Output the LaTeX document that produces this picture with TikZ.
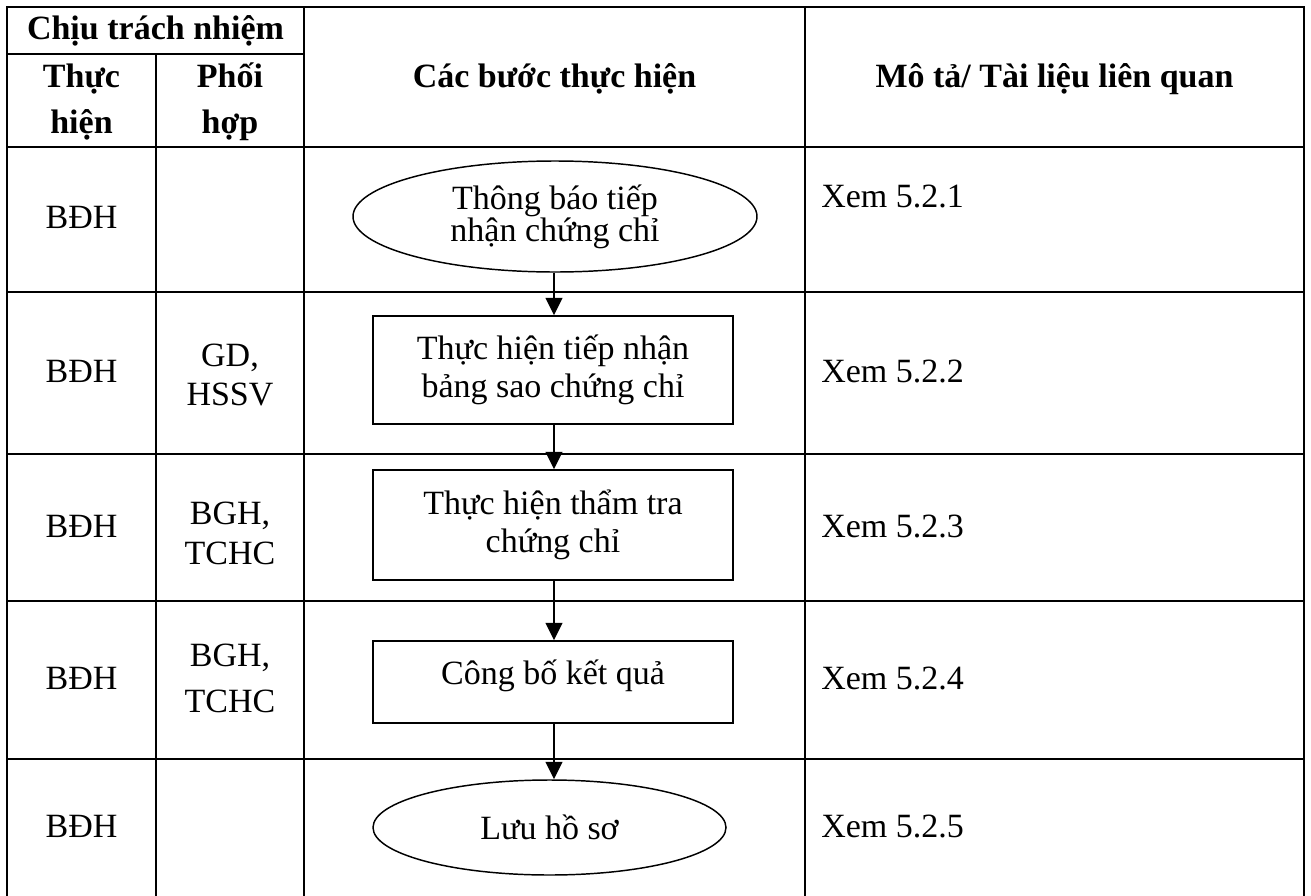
\documentclass[tikz,border=0pt]{standalone}
\usepackage{fontspec}
\setmainfont{Liberation Serif}
\usetikzlibrary{shapes.geometric,arrows.meta}

\tikzset{
  txt/.style={inner sep=0pt, font=\fontsize{25.5}{30}\selectfont},
  hd/.style={inner sep=0pt, align=center, font=\fontsize{25.5}{34.5}\selectfont\bfseries},
  two/.style={inner sep=0pt, align=center, font=\fontsize{25.5}{#1}\selectfont},
  stepbox/.style={draw, line width=1.1pt, minimum width=270pt, inner sep=0pt, align=center, font=\fontsize{25.5}{28.5}\selectfont},
  terminal/.style={draw, ellipse, line width=1.1pt, inner sep=0pt, align=center, font=\fontsize{25.5}{24}\selectfont},
  flow/.style={-{Triangle[length=13pt,width=12.5pt]}, line width=1.2pt},
  grid/.style={line width=2pt, line cap=rect},
}

\begin{document}
\begin{tikzpicture}[x=0.75pt,y=0.75pt,yscale=-1,xscale=1]
\useasboundingbox (0,0) rectangle (1311,896);

%Table: outer and column lines
\draw [grid] (7,7) -- (1304,7) ;
\draw [grid] (7,54) -- (304,54) ;
\foreach \y in {147,292,454,601,759}
  \draw [grid] (7,\y) -- (1304,\y) ;
\foreach \x in {7,304,805,1304}
  \draw [grid] (\x,7) -- (\x,896) ;
\draw [grid] (156,54) -- (156,896) ;

% Text Node
\node (hdResp) at (155.5,30.5) [hd] {Chịu trách nhiệm};
% Text Node
\node (hdDo) at (81.5,102) [hd] {Thực\\hiện};
% Text Node
\node (hdCoop) at (230,102) [hd] {Phối\\hợp};
% Text Node
\node (hdSteps) at (554.5,87) [hd, anchor=base] {Các bước thực hiện};
% Text Node
\node (hdDesc) at (1054.5,87) [hd, anchor=base] {Mô tả/ Tài liệu liên quan};

% Text Node
\node (do1) at (81.5,228) [txt, anchor=base] {BĐH};
\node (do2) at (81.5,382) [txt, anchor=base] {BĐH};
\node (do3) at (81.5,537) [txt, anchor=base] {BĐH};
\node (do4) at (81.5,689) [txt, anchor=base] {BĐH};
\node (do5) at (81.5,837) [txt, anchor=base] {BĐH};

% Text Node
\node (coop2) at (230,375) [two=29.25] {GD,\\HSSV};
\node (coop3) at (230,533) [two=30] {BGH,\\TCHC};
\node (coop4) at (230,678) [two=34.5] {BGH,\\TCHC};

% Text Node
\node (desc1) at (821,207) [txt, anchor=base west] {Xem 5.2.1};
\node (desc2) at (821,382) [txt, anchor=base west] {Xem 5.2.2};
\node (desc3) at (821,537) [txt, anchor=base west] {Xem 5.2.3};
\node (desc4) at (821,689) [txt, anchor=base west] {Xem 5.2.4};
\node (desc5) at (821,837) [txt, anchor=base west] {Xem 5.2.5};

%Shape: Ellipse
\node (notify) at (555,216.5) [terminal, minimum width=303pt, minimum height=83.25pt] {Thông báo tiếp\\nhận chứng chỉ};
%Shape: Rectangle
\node (receive) at (553,370) [stepbox, minimum height=81pt] {Thực hiện tiếp nhận\\bảng sao chứng chỉ};
%Shape: Rectangle
\node (verify) at (553,525) [stepbox, minimum height=82.5pt] {Thực hiện thẩm tra\\chứng chỉ};
%Shape: Rectangle
\node (publish) at (553,682) [stepbox, minimum height=61.5pt, text height=20pt, text depth=16.5pt] {Công bố kết quả};
%Shape: Ellipse
\node (archive) at (549.5,827.5) [terminal, minimum width=264.75pt, minimum height=71.25pt] {Lưu hồ sơ};

%Straight Lines
\draw [flow] (notify.south -| 554,0) -- (receive.north -| 554,0) ;
\draw [flow] (receive.south -| 554,0) -- (verify.north -| 554,0) ;
\draw [flow] (verify.south -| 554,0) -- (publish.north -| 554,0) ;
\draw [flow] (publish.south -| 554,0) -- (archive.north -| 554,0) ;

\end{tikzpicture}
\end{document}
